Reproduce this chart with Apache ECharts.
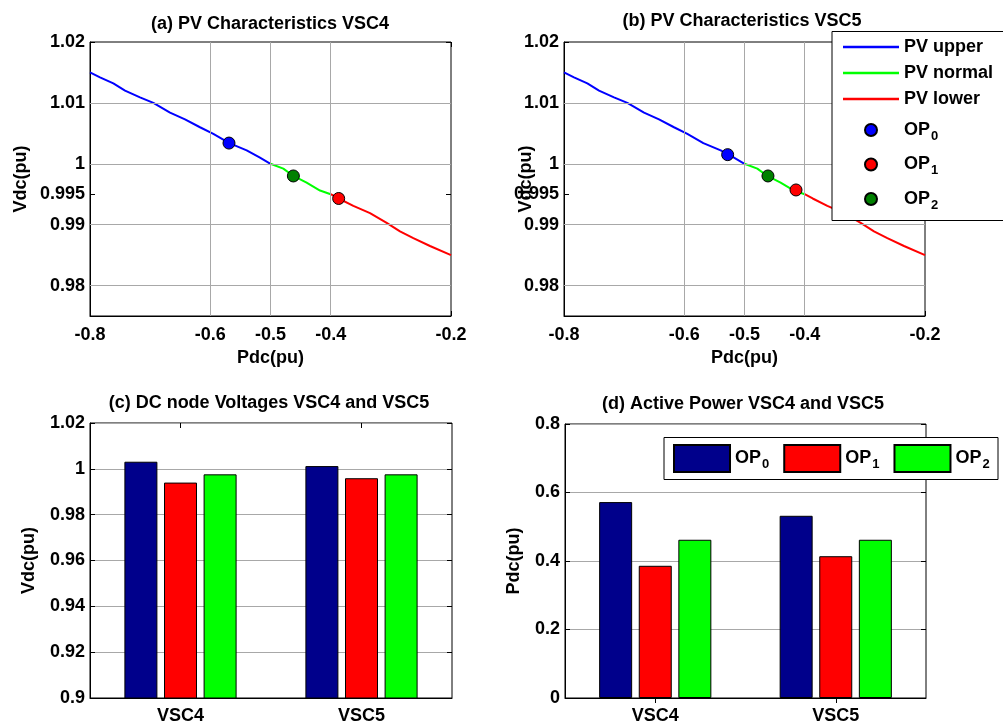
<!DOCTYPE html>
<html><head><meta charset="utf-8">
<script src="https://cdn.jsdelivr.net/npm/echarts@6/dist/echarts.min.js"></script>
<style>html,body{margin:0;padding:0;background:#fff}#c{width:1003px;height:725px}</style>
</head><body><div id="c"></div>
<script>
// ---- data ----
const pvUpperP = [-0.8, -0.7834, -0.7612, -0.7418, -0.7169, -0.6947, -0.667, -0.6421, -0.6172, -0.595, -0.5684, -0.5396, -0.5175, -0.5];
const pvUpperV = [1.0150, 1.0142, 1.0132, 1.0120, 1.0109, 1.0100, 1.0084, 1.0073, 1.0060, 1.0049, 1.0034, 1.0022, 1.0010, 1.0];
const pvNormalP = [-0.5, -0.4787, -0.462, -0.44, -0.4177, -0.4];
const pvNormalV = [1.0, 0.9992, 0.9980, 0.9969, 0.9956, 0.9950];
const pvLowerP = [-0.4, -0.3867, -0.3623, -0.3346, -0.3069, -0.2848, -0.2626, -0.2349, -0.2];
const pvLowerV = [0.9950, 0.9943, 0.9931, 0.9919, 0.9903, 0.9889, 0.9878, 0.9865, 0.9850];

const opNames = ['OP0', 'OP1', 'OP2'];
const vsc4OpP = [-0.569, -0.3867, -0.462];
const vsc4OpV = [1.0034, 0.9943, 0.9980];
const vsc5OpP = [-0.528, -0.4144, -0.461];
const vsc5OpV = [1.0015, 0.9957, 0.9980];

const categories = ['VSC4', 'VSC5'];
const vdcOP0 = [1.0031, 1.0012];
const vdcOP1 = [0.9940, 0.9959];
const vdcOP2 = [0.9976, 0.9976];
const pdcOP0 = [0.572, 0.532];
const pdcOP1 = [0.386, 0.414];
const pdcOP2 = [0.462, 0.462];

const pTickVals = [-0.8, -0.6, -0.5, -0.4, -0.2];
const pTickLabels = ['-0.8', '-0.6', '-0.5', '-0.4', '-0.2'];
const vTickVals = [0.98, 0.99, 0.995, 1, 1.01, 1.02];
const vTickLabels = ['0.98', '0.99', '0.995', '1', '1.01', '1.02'];
const pGridVals = [-0.6, -0.5, -0.4];
const vGridVals = [0.98, 0.99, 0.995, 1, 1.01];

const titles = ['(a) PV Characteristics VSC4', '(b) PV Characteristics VSC5', '(c) DC node Voltages VSC4 and VSC5', '(d) Active Power VSC4 and VSC5'];

// ---- styling ----
const FF = 'Liberation Sans';
const TX = {fontFamily: FF, fontWeight: 'bold', color: '#000'};
const GRIDC = '#a8a8a8';
const lineColors = ['#0000ff', '#00ff00', '#ff0000'];
const opColors = ['#0000ff', '#ff0000', '#008000'];
const barColors = ['#00008b', '#ff0000', '#00ff00'];

function fmtFrom(vals, labels) {
  return function (v) {
    for (let i = 0; i < vals.length; i++) if (Math.abs(v - vals[i]) < 1e-6) return labels[i];
    return '';
  };
}
const zip = (a, b) => a.map((x, i) => [x, b[i]]);

const grids = [
  {left: 90, top: 42, width: 361, height: 274},
  {left: 564, top: 42, width: 361, height: 274},
  {left: 90, top: 423, width: 362, height: 276},
  {left: 565, top: 424, width: 361, height: 276}
].map(g => Object.assign(g, {show: true, borderColor: '#000', borderWidth: 1, backgroundColor: '#fff', containLabel: false}));

const axLine = {show: true, lineStyle: {color: '#000', width: 1}};
function pvX(g, top) {
  return {
    type: 'value', gridIndex: g, min: -0.8, max: -0.2, interval: 0.1, position: top ? 'top' : 'bottom',
    axisLine: top ? {show: false} : axLine,
    axisTick: {show: true, inside: true, length: 5, customValues: pTickVals, lineStyle: {color: '#000'}},
    axisLabel: top ? {show: false} : Object.assign({customValues: pTickVals, formatter: fmtFrom(pTickVals, pTickLabels), margin: 10, fontSize: 18}, TX),
    splitLine: {show: false},
    name: top ? '' : 'Pdc(pu)', nameLocation: 'middle', nameGap: 33, nameMoveOverlap: false,
    nameTextStyle: Object.assign({fontSize: 18}, TX)
  };
}
function pvY(g, right, gap) {
  return {
    type: 'value', gridIndex: g, min: 0.975, max: 1.02, interval: 0.005, position: right ? 'right' : 'left',
    axisLine: right ? {show: false} : axLine,
    axisTick: {show: true, inside: true, length: 5, customValues: vTickVals, lineStyle: {color: '#000'}},
    axisLabel: right ? {show: false} : Object.assign({customValues: vTickVals, formatter: fmtFrom(vTickVals, vTickLabels), margin: 5, fontSize: 18}, TX),
    splitLine: {show: false},
    name: right ? '' : 'Vdc(pu)', nameLocation: 'middle', nameGap: gap || 60, nameMoveOverlap: false,
    nameTextStyle: Object.assign({fontSize: 18}, TX)
  };
}
function catX(g, top) {
  return {
    type: 'category', gridIndex: g, data: categories, position: top ? 'top' : 'bottom',
    axisLine: top ? {show: false} : axLine,
    axisTick: {show: true, inside: true, length: 5, alignWithLabel: true, lineStyle: {color: '#000'}},
    axisLabel: top ? {show: false} : Object.assign({margin: 9, fontSize: 18}, TX),
    splitLine: {show: false}
  };
}
function barY(g, min, max, interval, name, gap, right) {
  return {
    type: 'value', gridIndex: g, min: min, max: max, interval: interval, position: right ? 'right' : 'left',
    axisLine: right ? {show: false} : axLine,
    axisTick: {show: true, inside: true, length: 5, lineStyle: {color: '#000'}},
    axisLabel: right ? {show: false} : Object.assign({margin: 5, fontSize: 18}, TX),
    splitLine: {show: !right, lineStyle: {color: GRIDC, width: 1}},
    name: right ? '' : name, nameLocation: 'middle', nameGap: gap, nameMoveOverlap: false,
    nameTextStyle: Object.assign({fontSize: 18}, TX)
  };
}

const series = [];
// PV panels
[[0, vsc4OpP, vsc4OpV], [1, vsc5OpP, vsc5OpV]].forEach(([g, opP, opV]) => {
  const ax = {xAxisIndex: g, yAxisIndex: g};
  series.push(Object.assign({
    type: 'line', name: '_grid' + g, data: [], z: 1, silent: true,
    markLine: {
      silent: true, symbol: ['none', 'none'], label: {show: false}, animation: false,
      lineStyle: {color: GRIDC, type: 'solid', width: 1},
      emphasis: {disabled: true},
      data: pGridVals.map(v => ({xAxis: v})).concat(vGridVals.map(v => ({yAxis: v})))
    }
  }, ax));
  [['PV upper', pvUpperP, pvUpperV], ['PV normal', pvNormalP, pvNormalV], ['PV lower', pvLowerP, pvLowerV]].forEach(([n, xs, ys], i) => {
    series.push(Object.assign({
      type: 'line', name: n, data: zip(xs, ys), symbol: 'none', showSymbol: false, z: 2,
      lineStyle: {color: lineColors[i], width: 2}, itemStyle: {color: lineColors[i]}
    }, ax));
  });
  opNames.forEach((n, i) => {
    series.push(Object.assign({
      type: 'scatter', name: n, data: [[opP[i], opV[i]]], symbol: 'circle', symbolSize: 12, z: 3,
      itemStyle: {color: opColors[i], borderColor: '#000', borderWidth: 1, opacity: 1}
    }, ax));
  });
});
// bar panels
[[2, [vdcOP0, vdcOP1, vdcOP2]], [3, [pdcOP0, pdcOP1, pdcOP2]]].forEach(([g, sets]) => {
  sets.forEach((d, i) => {
    series.push({
      type: 'bar', name: opNames[i] + '-bar', xAxisIndex: g, yAxisIndex: g, data: d,
      barWidth: 33, barGap: '20%', z: 2,
      itemStyle: {color: barColors[i], borderColor: '#000', borderWidth: 1}
    });
  });
});

const rich = {
  m: {fontFamily: FF, fontWeight: 'bold', fontSize: 18, color: '#000'},
  s: {fontFamily: FF, fontWeight: 'bold', fontSize: 13, color: '#000', padding: [12, 0, 0, 1]}
};
function legFmt(name) {
  const m = /^OP(\d)/.exec(name);
  if (m) return '{m|OP}{s|' + m[1] + '}';
  return name;
}

const option = {
  animation: false,
  backgroundColor: '#fff',
  grid: grids,
  xAxis: [pvX(0), pvX(1), catX(2), catX(3), pvX(0, true), pvX(1, true), catX(2, true), catX(3, true)],
  yAxis: [pvY(0, false, 60), pvY(1, false, 29), barY(2, 0.9, 1.02, 0.02, 'Vdc(pu)', 52), barY(3, 0, 0.8, 0.2, 'Pdc(pu)', 42),
          pvY(0, true), pvY(1, true), barY(2, 0.9, 1.02, 0.02, '', 0, true), barY(3, 0, 0.8, 0.2, '', 0, true)],
  legend: [
    {data: ['PV upper', 'PV normal', 'PV lower'].map(n => ({name: n, icon: 'rect'})), orient: 'vertical', left: 843, top: 37, padding: 0,
     itemWidth: 56, itemHeight: 2.5, itemGap: 6, z: 20, selectedMode: false,
     textStyle: Object.assign({fontSize: 18, lineHeight: 20}, TX)},
    {data: opNames.map(n => ({name: n, icon: 'circle'})), orient: 'vertical', left: 864, top: 121, padding: 0,
     itemWidth: 56, itemHeight: 12, itemGap: 13, z: 20, selectedMode: false, formatter: legFmt,
     textStyle: Object.assign({fontSize: 18, rich: rich}, TX)},
    {data: opNames.map(n => n + '-bar'), orient: 'horizontal', left: 673, top: 444, padding: 0,
     itemWidth: 56, itemHeight: 27, itemGap: 14, z: 20, selectedMode: false, icon: 'rect', formatter: legFmt,
     textStyle: Object.assign({fontSize: 18, rich: rich}, TX)}
  ],
  graphic: [
    {type: 'rect', z: 15, shape: {x: 832, y: 31.5, width: 200, height: 189}, style: {fill: '#fff', stroke: '#000', lineWidth: 1}},
    {type: 'rect', z: 15, shape: {x: 664, y: 437.5, width: 334, height: 42}, style: {fill: '#fff', stroke: '#000', lineWidth: 1}},
    ...[[270, 24], [742, 21], [269, 403], [743, 404]].map(([x, y], i) => ({
      type: 'text', x: x, y: y, z: 20,
      style: {text: titles[i], fontFamily: FF, fontWeight: 'bold', fontSize: 18, fill: '#000',
              align: 'center', verticalAlign: 'middle', textAlign: 'center', textVerticalAlign: 'middle'}
    }))
  ],
  series: series
};
const chart = echarts.init(document.getElementById('c'), null, {renderer: 'canvas'});
chart.setOption(option);
</script></body></html>
